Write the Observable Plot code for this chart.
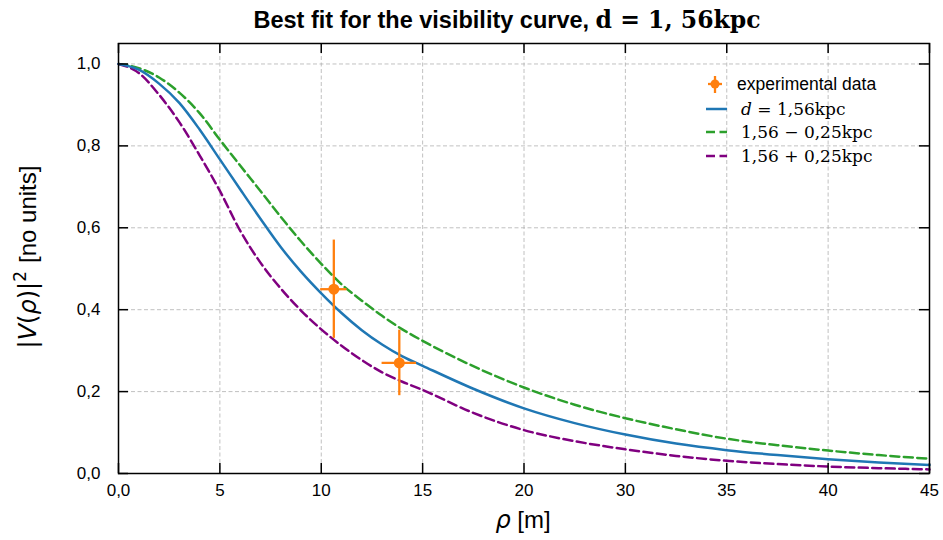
<!DOCTYPE html>
<html><head><meta charset="utf-8">
<script src="https://cdn.jsdelivr.net/npm/d3@7"></script>
<script src="https://cdn.jsdelivr.net/npm/@observablehq/plot@0.6"></script>
<style>
body{margin:0;background:#fff;}
#wrap{position:relative;width:943px;height:540px;background:#fff;font-family:"Liberation Sans",Arial,sans-serif;}
#title{position:absolute;top:0;left:507px;transform:translateX(-50%);white-space:nowrap;height:40px;line-height:40px;font-weight:bold;font-size:23.5px;color:#000;}
#title .m{font-family:"DejaVu Serif",serif;font-weight:bold;font-size:23.5px;}
#chart{position:absolute;top:40px;left:0;}
#over{position:absolute;top:0;left:0;pointer-events:none;}
</style></head><body>
<div id="wrap">
  <div id="title">Best fit for the visibility curve, <span class="m">d = 1, 56kpc</span></div>
  <div id="chart"></div>
  <svg id="over" width="943" height="540"></svg>
</div>
<script>
// ---- data ----
const rho      = [0, 1, 2, 3, 4, 5, 6, 7, 8, 9, 10, 11, 12, 13, 14, 15, 17.5, 20, 22.5, 25, 27.5, 30, 32.5, 35, 37.5, 40];
const vBest    = [1.0, 0.986, 0.952, 0.905, 0.84, 0.767, 0.694, 0.622, 0.553, 0.493, 0.44, 0.392, 0.35, 0.315, 0.286, 0.263, 0.207, 0.159, 0.123, 0.095, 0.073, 0.057, 0.045, 0.035, 0.027, 0.021];
const vMinus   = [1.0, 0.99, 0.967, 0.93, 0.88, 0.815, 0.752, 0.69, 0.627, 0.567, 0.512, 0.462, 0.422, 0.385, 0.352, 0.324, 0.262, 0.21, 0.168, 0.135, 0.108, 0.085, 0.069, 0.056, 0.045, 0.036];
const vPlus    = [1.0, 0.978, 0.925, 0.858, 0.777, 0.69, 0.593, 0.515, 0.452, 0.398, 0.352, 0.312, 0.277, 0.247, 0.224, 0.204, 0.148, 0.106, 0.079, 0.059, 0.043, 0.031, 0.023, 0.017, 0.013, 0.010];
const expRho   = [10.62, 13.85];
const expV     = [0.45, 0.27];
const expRhoErr= [0.65, 0.85];
const expVErr  = [0.12, 0.08];
const xTicks      = [0, 5, 10, 15, 20, 25, 30, 35, 40];
const xTickLabels = ["0,0", "5", "10", "15", "20", "30", "35", "40", "45"];
const yTicks      = [0, 0.2, 0.4, 0.6, 0.8, 1.0];
const yTickLabels = ["0,0", "0,2", "0,4", "0,6", "0,8", "1,0"];
const seriesNames = ["d = 1,56kpc", "1,56 − 0,25kpc", "1,56 + 0,25kpc"];

const curves = [];
rho.forEach((r, i) => {
  curves.push({rho: r, v: vBest[i], s: "best"});
  curves.push({rho: r, v: vMinus[i], s: "minus"});
  curves.push({rho: r, v: vPlus[i], s: "plus"});
});
const exp = expRho.map((r, i) => ({rho: r, v: expV[i], rl: r - expRhoErr[i], rh: r + expRhoErr[i], vl: expV[i] - expVErr[i], vh: expV[i] + expVErr[i]}));

const W = 943, H = 500, mT = 3, mB = 67, mL = 118, mR = 14;
const innerW = W - mL - mR, innerH = H - mT - mB;
const tickLen = 10;
const grid = {stroke: "#b0b0b0", strokeOpacity: 1, strokeWidth: 0.8, strokeDasharray: "4,2.5"};

const chart = Plot.plot({
  width: W, height: H,
  marginTop: mT, marginBottom: mB, marginLeft: mL, marginRight: mR,
  x: {domain: [0, 40]},
  y: {domain: [0, 1.05]},
  style: {fontFamily: "'Liberation Sans', Arial, sans-serif", fontSize: "17px", color: "#000", background: "#fff"},
  marks: [
    Plot.ruleX(xTicks, grid),
    Plot.ruleY(yTicks, grid),
    Plot.line(curves.filter(d => d.s === "minus"), {x: "rho", y: "v", stroke: "#2ca02c", strokeWidth: 2.5, strokeDasharray: "9,4.5", curve: "monotone-x"}),
    Plot.line(curves.filter(d => d.s === "plus"), {x: "rho", y: "v", stroke: "#800080", strokeWidth: 2.5, strokeDasharray: "9,4.5", curve: "monotone-x"}),
    Plot.line(curves.filter(d => d.s === "best"), {x: "rho", y: "v", stroke: "#1f77b4", strokeWidth: 2.5, curve: "monotone-x"}),
    Plot.ruleX(exp, {x: "rho", y1: "vl", y2: "vh", stroke: "#ff7f0e", strokeWidth: 2.3}),
    Plot.ruleY(exp, {y: "v", x1: "rl", x2: "rh", stroke: "#ff7f0e", strokeWidth: 2.3}),
    Plot.dot(exp, {x: "rho", y: "v", r: 5.5, fill: "#ff7f0e", stroke: "none"}),
    Plot.frame({stroke: "#000", strokeWidth: 1.5}),
    Plot.tickX(xTicks, {x: d => d, insetTop: innerH - tickLen, stroke: "#000", strokeWidth: 1.5}),
    Plot.tickX(xTicks, {x: d => d, insetBottom: innerH - tickLen, stroke: "#000", strokeWidth: 1.5}),
    Plot.tickY(yTicks, {y: d => d, insetRight: innerW - tickLen, stroke: "#000", strokeWidth: 1.5}),
    Plot.tickY(yTicks, {y: d => d, insetLeft: innerW - tickLen, stroke: "#000", strokeWidth: 1.5}),
    Plot.axisX({ticks: xTicks, tickSize: 0, tickPadding: 10, tickFormat: d => xTickLabels[xTicks.indexOf(d)], label: null, fontSize: 17}),
    Plot.axisY({ticks: yTicks, tickSize: 0, tickPadding: 18, tickFormat: d => yTickLabels[yTicks.findIndex(t => Math.abs(t - d) < 1e-9)], label: null, fontSize: 17})
  ]
});
document.getElementById("chart").appendChild(chart);

// ---- axis titles and legend (overlay) ----
const ov = d3.select("#over");
// x label
const xl = ov.append("text").attr("x", 523).attr("y", 528).attr("text-anchor", "middle").attr("font-size", 24).attr("font-family", "'Liberation Sans', Arial, sans-serif");
xl.append("tspan").attr("font-family", "'DejaVu Sans', sans-serif").attr("font-style", "italic").text("ρ");
xl.append("tspan").text(" [m]");
// y label
const yl = ov.append("text").attr("transform", "translate(36,257) rotate(-90)").attr("text-anchor", "middle").attr("font-size", 24).attr("font-family", "'Liberation Sans', Arial, sans-serif");
const mf = "'DejaVu Sans', sans-serif";
yl.append("tspan").attr("font-family", mf).text("|");
yl.append("tspan").attr("font-family", mf).attr("font-style", "italic").text("V");
yl.append("tspan").attr("font-family", mf).text("(");
yl.append("tspan").attr("font-family", mf).attr("font-style", "italic").text("ρ");
yl.append("tspan").attr("font-family", mf).text(")|");
yl.append("tspan").attr("font-family", mf).attr("font-size", 17).attr("dy", -10).text("2");
yl.append("tspan").attr("dy", 10).attr("dx", 8).text("[no units]");

// legend
const lg = ov.append("g");
const o = "#ff7f0e";
lg.append("line").attr("x1", 708).attr("x2", 722).attr("y1", 84).attr("y2", 84).attr("stroke", o).attr("stroke-width", 2.3);
lg.append("line").attr("x1", 715).attr("x2", 715).attr("y1", 76).attr("y2", 93).attr("stroke", o).attr("stroke-width", 2.3);
lg.append("circle").attr("cx", 715).attr("cy", 84).attr("r", 4.5).attr("fill", o);
lg.append("text").attr("x", 737).attr("y", 90).attr("font-size", 17.5).attr("font-family", "'Liberation Sans', Arial, sans-serif").text("experimental data");
const rows = [
  {y: 109, c: "#1f77b4", dash: null, name: seriesNames[0]},
  {y: 132, c: "#2ca02c", dash: "9,4.5", name: seriesNames[1]},
  {y: 156, c: "#800080", dash: "9,4.5", name: seriesNames[2]}
];
rows.forEach((r, i) => {
  const ln = lg.append("line").attr("x1", 706).attr("x2", 727).attr("y1", r.y).attr("y2", r.y).attr("stroke", r.c).attr("stroke-width", 2.5);
  if (r.dash) ln.attr("stroke-dasharray", r.dash);
  const t = lg.append("text").attr("x", 741).attr("y", r.y + 6).attr("font-size", 17).attr("font-family", "'DejaVu Serif', serif");
  if (i === 0) {
    t.append("tspan").attr("font-style", "italic").text("d");
    t.append("tspan").text(" = 1,56kpc");
  } else {
    t.text(r.name);
  }
});
</script>
</body></html>
